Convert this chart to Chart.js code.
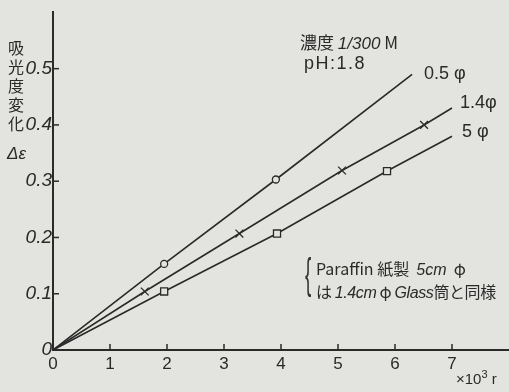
<!DOCTYPE html>
<html>
<head>
<meta charset="utf-8">
<script src="https://cdn.jsdelivr.net/npm/chart.js@4"></script>
<style>
  html, body { margin: 0; padding: 0; background: #e3e3df; }
  #wrap { position: relative; width: 509px; height: 392px; }
  canvas { position: absolute; left: 0; top: 0; }
  .txt { position: absolute; color: #2a2a2a; font-family: "Liberation Sans", "Noto Sans CJK JP", sans-serif; white-space: nowrap; }
  .jp { font-family: "Noto Sans CJK JP", sans-serif; }
  .lat { font-family: "Liberation Sans", sans-serif; font-style: italic; }
</style>
</head>
<body>
<div id="wrap">
  <canvas id="grafico" width="509" height="392"></canvas>
  <div class="txt jp" style="left:8px; top:38px; font-size:16px; line-height:19px; width:18px; white-space:normal;">吸光度変化</div>
  <div class="txt" style="left:7px; top:144px; font-size:17px; font-style:italic;">Δε</div>
  <div class="txt jp" style="left:300px; top:29px; font-size:17px;">濃度 <span class="lat">1/300</span> M</div>
  <div class="txt" style="left:304px; top:53px; font-size:18px; letter-spacing:1.5px;">pH:1.8</div>
  <div class="txt" style="left:305px; top:253px; font-size:42px; line-height:42px; transform:scaleX(0.45); transform-origin:left top; color:#333;">{</div>
  <div class="txt jp" style="left:316px; top:257px; font-size:16px; line-height:23px;">Paraffin 紙製&nbsp; <span class="lat">5cm</span>&nbsp; φ</div>
  <div class="txt jp" style="left:316px; top:280px; font-size:16px; line-height:23px; letter-spacing:-0.4px;">は <span class="lat">1.4cm</span> φ <span class="lat">Glass</span>筒と同様</div>
  <div class="txt" style="left:456px; top:368px; font-size:15px;">×10<sup style="font-size:11px">3</sup> r</div>
</div>
<script>
// 吸光度変化 vs 線量 (×10^3 r)
const nomes = ['0.5 φ', '1.4φ', '5 φ'];
const dose05 = [0, 1.95, 3.91, 6.3];
const abs05 = [0, 0.153, 0.303, 0.49];
const dose14 = [0, 1.61, 3.27, 5.07, 6.51, 7.0];
const abs14 = [0, 0.104, 0.207, 0.319, 0.40, 0.43];
const dose5 = [0, 1.95, 3.93, 5.86, 7.0];
const abs5 = [0, 0.104, 0.207, 0.318, 0.38];
const xTicks = [0, 1, 2, 3, 4, 5, 6, 7];
const yTicks = [0, 0.1, 0.2, 0.3, 0.4, 0.5];

const ink = '#2a2a2a';
const paper = '#e3e3df';
const fonteNum = '"Liberation Sans Narrow", "Liberation Sans", sans-serif';

function pontos(xs, ys) {
  return xs.map((x, i) => ({ x: x, y: ys[i] }));
}
// sem marcador na origem e na ponta da reta
function raio(r) {
  return c => (c.dataIndex === 0 || c.dataIndex === c.dataset.data.length - 1) ? 0 : r;
}

// marcas dos eixos para dentro + rótulos das séries
const marcas = {
  id: 'marcas',
  afterDraw(chart) {
    const ctx = chart.ctx;
    const sx = chart.scales.x, sy = chart.scales.y;
    ctx.save();
    ctx.strokeStyle = ink;
    ctx.lineWidth = 1.5;
    xTicks.slice(1).forEach(v => {
      const px = sx.getPixelForValue(v);
      ctx.beginPath();
      ctx.moveTo(px, sy.bottom);
      ctx.lineTo(px, sy.bottom - 6);
      ctx.stroke();
    });
    yTicks.slice(1).forEach(v => {
      const py = sy.getPixelForValue(v);
      ctx.beginPath();
      ctx.moveTo(sx.left, py);
      ctx.lineTo(sx.left + 6, py);
      ctx.stroke();
    });
    ctx.fillStyle = ink;
    ctx.font = '18px "Liberation Sans", sans-serif';
    ctx.textBaseline = 'middle';
    const offs = [[12, 0], [8, -5], [10, -4]];
    chart.data.datasets.forEach((ds, i) => {
      const last = ds.data[ds.data.length - 1];
      const px = sx.getPixelForValue(last.x), py = sy.getPixelForValue(last.y);
      ctx.fillText(nomes[i], px + offs[i][0], py + offs[i][1]);
    });
    ctx.restore();
  }
};

const ctxGrafico = document.getElementById('grafico').getContext('2d');
new Chart(ctxGrafico, {
  type: 'line',
  data: {
    datasets: [
      {
        label: nomes[0],
        data: pontos(dose05, abs05),
        pointStyle: 'circle',
        pointRadius: raio(3.5)
      },
      {
        label: nomes[1],
        data: pontos(dose14, abs14),
        pointStyle: 'crossRot',
        pointRadius: raio(5.5)
      },
      {
        label: nomes[2],
        data: pontos(dose5, abs5),
        pointStyle: 'rect',
        pointRadius: raio(5)
      }
    ].map(ds => Object.assign(ds, {
      borderColor: ink,
      borderWidth: 1.6,
      pointBorderColor: ink,
      pointBackgroundColor: paper,
      pointBorderWidth: 1.3,
      tension: 0
    }))
  },
  options: {
    responsive: false,
    animation: false,
    layout: { padding: { top: 8, right: 0, left: 0, bottom: 0 } },
    plugins: {
      legend: { display: false },
      tooltip: { enabled: false }
    },
    scales: {
      x: {
        type: 'linear',
        min: 0,
        max: 8,
        afterFit: s => { s.height = 42; },
        afterBuildTicks: s => { s.ticks = xTicks.map(v => ({ value: v })); },
        grid: { display: false, drawTicks: false },
        border: { display: true, color: ink, width: 2 },
        ticks: {
          color: ink,
          padding: 4,
          font: { family: '"Liberation Sans", sans-serif', size: 17 }
        }
      },
      y: {
        type: 'linear',
        min: 0,
        max: 0.6,
        afterFit: s => { s.width = 53; },
        afterBuildTicks: s => { s.ticks = yTicks.map(v => ({ value: v })); },
        grid: { display: false, drawTicks: false },
        border: { display: true, color: ink, width: 2 },
        ticks: {
          color: ink,
          padding: 1,
          font: { family: fonteNum, size: 19, style: 'italic' },
          callback: v => v === 0 ? '0' : v.toFixed(1)
        }
      }
    }
  },
  plugins: [marcas]
});
</script>
</body>
</html>
